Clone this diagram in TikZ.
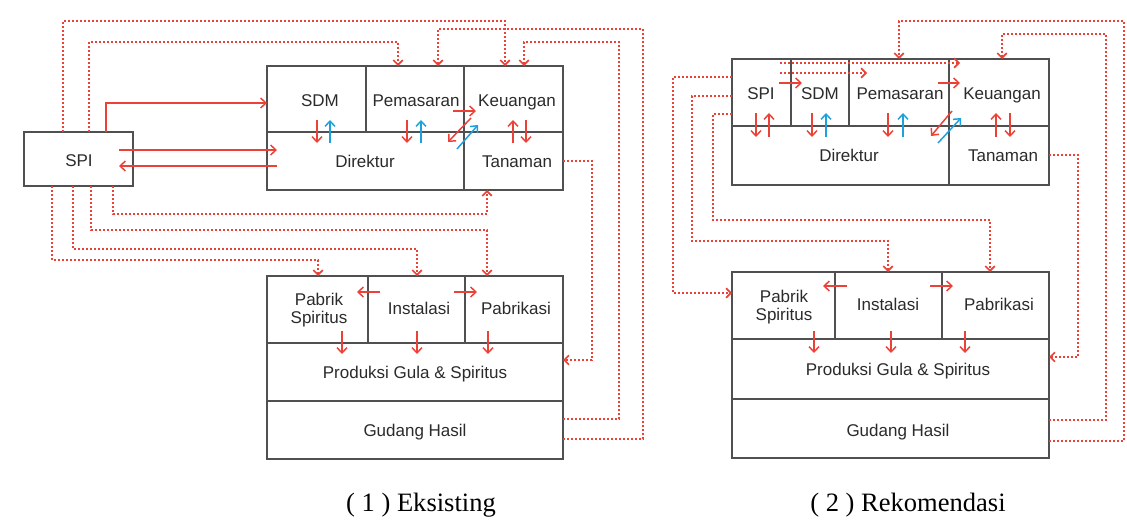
\documentclass[tikz,border=0pt]{standalone}
\usepackage{fontspec}
\setmainfont{Liberation Sans}
\newfontfamily\capfont{Liberation Serif}
\usetikzlibrary{arrows.meta}
\definecolor{ared}{HTML}{EC4136}
\definecolor{ablue}{HTML}{1DA1DD}
\definecolor{bgray}{HTML}{505050}
\definecolor{tgray}{HTML}{2B2B2B}
\newcommand{\cellbox}[5]{%
  \pgfmathsetmacro\cellW{(#4-#2)*0.75}%
  \pgfmathsetmacro\cellH{(#5-#3)*0.75}%
  \node[cellst,minimum width=\cellW pt,minimum height=\cellH pt] (#1) at ({(#2+#4)/2},{(#3+#5)/2}) {};}
\begin{document}
\begin{tikzpicture}[x=0.75pt,y=-0.75pt,
  cellst/.style={draw=bgray,line width=1pt,inner sep=0pt,outer sep=0pt},
  lbl/.style={font=\fontsize{12.75}{13.5}\selectfont,text=tgray,inner sep=0pt,text height=9.1pt,text depth=0pt},
  lbltwo/.style={font=\fontsize{12.75}{13.5}\selectfont,text=tgray,inner sep=0pt,align=center},
  capst/.style={font=\capfont\fontsize{19.9}{23}\selectfont,text=black,inner sep=0pt},
  sarr/.style={draw=ared,line width=1.1pt,-{Straight Barb[length=4pt,width=7.5pt]}},
  barr/.style={draw=ablue,line width=1.1pt,-{Straight Barb[length=4pt,width=7.5pt]}},
  darr/.style={draw=ared,line width=1.3pt,dash pattern=on 1.3pt off 1.7pt,-{Straight Barb[length=3.5pt,width=7pt]}},
]
\useasboundingbox (0,0) rectangle (1127,520);
\clip (0,0) rectangle (1127,520);
\fill[white] (0,0) rectangle (1127,520);

% ===== LEFT (Eksisting) =====
\cellbox{lspi}{24}{132}{133}{186}
\cellbox{lsdm}{267}{66}{366}{132}
\cellbox{lpem}{366}{66}{464}{132}
\cellbox{lkeu}{464}{66}{563}{132}
\cellbox{ldir}{267}{132}{464}{190}
\cellbox{ltan}{464}{132}{563}{190}
\cellbox{lpab}{267}{276}{368}{343}
\cellbox{lins}{368}{276}{465}{343}
\cellbox{lpbk}{465}{276}{563}{343}
\cellbox{lprod}{267}{343}{563}{401}
\cellbox{lgud}{267}{401}{563}{459}

\node[lbl] (tlspi) at (79,160) {SPI};
\node[lbl] (tlsdm) at (320,100) {SDM};
\node[lbl] (tlpem) at (416,100) {Pemasaran};
\node[lbl] (tlkeu) at (517,100) {Keuangan};
\node[lbl] (tldir) at (365,161) {Direktur};
\node[lbl] (tltan) at (517,161) {Tanaman};
\node[lbltwo] (tlpab) at (319,310) {Pabrik\\Spiritus};
\node[lbl] (tlins) at (419,308) {Instalasi};
\node[lbl] (tlpbk) at (516,308) {Pabrikasi};
\node[lbl] (tlprod) at (415,372) {Produksi Gula \& Spiritus};
\node[lbl] (tlgud) at (415,430) {Gudang Hasil};

% dotted connectors
\draw[darr] (lspi.north -| 63,0) |- (505,21) -- (lkeu.north -| 505,0);
\draw[darr] (lspi.north -| 89,0) |- (398,42) -- (lpem.north -| 398,0);
\draw[darr] (lgud.east |- 0,439) -| (643,29) -| (lpem.north -| 438,0);
\draw[darr] (lgud.east |- 0,419) -| (619,42) -| (lkeu.north -| 524,0);
\draw[darr] (ltan.east |- 0,161) -| (592,360) -- (lprod.east |- 0,360);
\draw[darr] (lspi.south -| 113,0) |- (487,214) -- (ltan.south -| 487,0);
\draw[darr] (lspi.south -| 91,0) |- (487,230) -- (lpbk.north -| 487,0);
\draw[darr] (lspi.south -| 73,0) |- (417,249) -- (lins.north -| 417,0);
\draw[darr] (lspi.south -| 52,0) |- (318,260) -- (lpab.north -| 318,0);

% solid connectors
\draw[sarr] (lspi.north -| 106,0) |- (lsdm.west |- 0,103);
\draw[sarr] (119,150) -- (277,150);
\draw[sarr] (277,166) -- (119,166);
\draw[sarr] (317,120) -- (317,143);
\draw[barr] (330,143) -- (330,120);
\draw[sarr] (407,120) -- (407,143);
\draw[barr] (421,143) -- (421,120);
\draw[sarr] (513,143) -- (513,120);
\draw[sarr] (526,120) -- (526,143);
\draw[sarr] (453,111) -- (476,111);
\draw[sarr] (471,118) -- (448,142);
\draw[barr] (457,149) -- (478,125);
\draw[sarr] (380,292) -- (357,292);
\draw[sarr] (454,292) -- (477,292);
\draw[sarr] (342,331) -- (342,354);
\draw[sarr] (417,331) -- (417,354);
\draw[sarr] (488,331) -- (488,354);

\node[capst] (cap1) at (421,505) {( 1 ) Eksisting};

% ===== RIGHT (Rekomendasi) =====
\cellbox{rspi}{732}{59}{791}{126}
\cellbox{rsdm}{791}{59}{849}{126}
\cellbox{rpem}{849}{59}{949}{126}
\cellbox{rkeu}{949}{59}{1049}{126}
\cellbox{rdir}{732}{126}{949}{185}
\cellbox{rtan}{949}{126}{1049}{185}
\cellbox{rpab}{732}{272}{835}{339}
\cellbox{rins}{835}{272}{942}{339}
\cellbox{rpbk}{942}{272}{1049}{339}
\cellbox{rprod}{732}{339}{1049}{399}
\cellbox{rgud}{732}{399}{1049}{458}

\node[lbl] (trspi) at (761,93) {SPI};
\node[lbl] (trsdm) at (820,93) {SDM};
\node[lbl] (trpem) at (900,93) {Pemasaran};
\node[lbl] (trkeu) at (1002,93) {Keuangan};
\node[lbl] (trdir) at (849,155) {Direktur};
\node[lbl] (trtan) at (1003,155) {Tanaman};
\node[lbltwo] (trpab) at (784,307) {Pabrik\\Spiritus};
\node[lbl] (trins) at (888,304) {Instalasi};
\node[lbl] (trpbk) at (999,304) {Pabrikasi};
\node[lbl] (trprod) at (898,369) {Produksi Gula \& Spiritus};
\node[lbl] (trgud) at (898,430) {Gudang Hasil};

% dotted connectors
\draw[darr] (780,63) -- (960,63);
\draw[darr] (780,73) -- (867,73);
\draw[darr] (rspi.west |- 0,77) -| (673,293) -- (rpab.west |- 0,293);
\draw[darr] (rspi.west |- 0,96) -| (692,241) -| (rins.north -| 888,0);
\draw[darr] (rspi.west |- 0,114) -| (713,220) -| (rpbk.north -| 990,0);
\draw[darr] (rtan.east |- 0,155) -| (1078,357) -- (rprod.east |- 0,357);
\draw[darr] (rgud.east |- 0,420) -| (1106,34) -| (rkeu.north -| 1002,0);
\draw[darr] (rgud.east |- 0,441) -| (1124,21) -| (rpem.north -| 899,0);

% solid connectors
\draw[sarr] (779,83) -- (802,83);
\draw[sarr] (938,83) -- (960,83);
\draw[sarr] (756,113) -- (756,137);
\draw[sarr] (769,137) -- (769,113);
\draw[sarr] (812,113) -- (812,137);
\draw[barr] (826,137) -- (826,113);
\draw[sarr] (888,113) -- (888,137);
\draw[barr] (903,137) -- (903,113);
\draw[sarr] (996,137) -- (996,113);
\draw[sarr] (1010,113) -- (1010,137);
\draw[sarr] (952,111) -- (931,136);
\draw[barr] (938,143) -- (961,118);
\draw[sarr] (847,286) -- (823,286);
\draw[sarr] (930,286) -- (953,286);
\draw[sarr] (814,331) -- (814,353);
\draw[sarr] (891,331) -- (891,353);
\draw[sarr] (965,331) -- (965,353);

\node[capst] (cap2) at (908,505) {( 2 ) Rekomendasi};
\end{tikzpicture}
\end{document}
